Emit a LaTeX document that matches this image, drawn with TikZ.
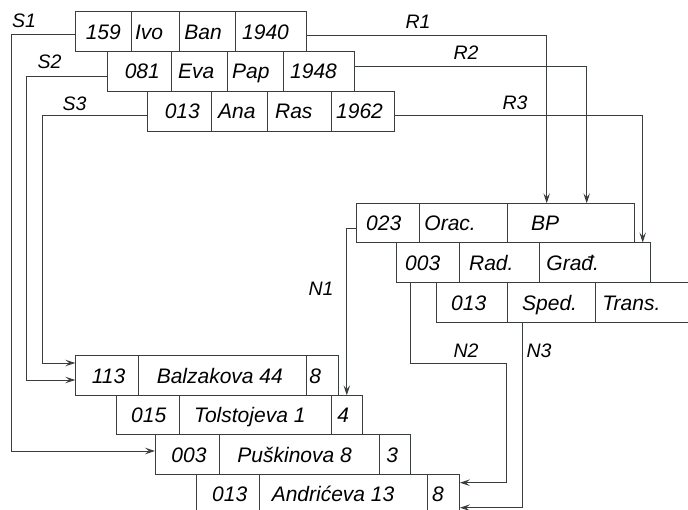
\documentclass[tikz,border=0pt]{standalone}
\usepackage{fontspec}
\setmainfont{Liberation Sans}
\usetikzlibrary{arrows.meta,calc}
\definecolor{ln}{HTML}{3A3D3E}
\tikzset{
  cellst/.style={draw=ln, line width=0.9pt, inner sep=0pt, text height=15pt, text depth=0pt,
    font=\fontsize{21}{25}\selectfont\itshape, anchor=north west},
  lab/.style={font=\fontsize{19.5}{23}\selectfont\itshape, inner sep=0pt},
  conn/.style={draw=ln, line width=0.9pt, -{Stealth[length=10pt,width=6.5pt,inset=4pt]}},
  plain/.style={draw=ln, line width=0.9pt}
}
\newcommand\cellbox[7]{\node[cellst, minimum width=#4pt, minimum height=#5pt] (#1) at (#2,#3) {\makebox[#4pt][l]{\hspace*{#6pt}#7}};}
\begin{document}
\begin{tikzpicture}[x=1pt,y=-1pt]
\useasboundingbox (0,0) rectangle (688,510);
\clip (0,0) rectangle (688,510);
% S tables
\cellbox{S1a}{75.3}{11.5}{55.4}{39.7}{10}{159}
\cellbox{S1b}{130.7}{11.5}{48.3}{39.7}{4}{Ivo}
\cellbox{S1c}{179}{11.5}{55.7}{39.7}{5}{Ban}
\cellbox{S1d}{234.7}{11.5}{71.3}{39.7}{7}{1940}
\cellbox{S2a}{107.3}{51.2}{63.4}{39.7}{17}{081}
\cellbox{S2b}{170.7}{51.2}{56}{39.7}{7}{Eva}
\cellbox{S2c}{226.7}{51.2}{56}{39.7}{5}{Pap}
\cellbox{S2d}{282.7}{51.2}{71.3}{39.7}{7}{1948}
\cellbox{S3a}{147.3}{90.9}{63.4}{39.7}{17}{013}
\cellbox{S3b}{210.7}{90.9}{56}{39.7}{7}{Ana}
\cellbox{S3c}{266.7}{90.9}{64}{39.7}{8}{Ras}
\cellbox{S3d}{330.7}{90.9}{63.3}{39.7}{5}{1962}
% middle tables
\cellbox{M1a}{355.7}{203.3}{63.3}{39.2}{10}{023}
\cellbox{M1b}{419}{203.3}{87.7}{39.2}{5}{Orac.}
\cellbox{M1c}{506.7}{203.3}{127.3}{39.2}{24}{BP}
\cellbox{M2a}{395.7}{242.5}{63}{39.8}{9}{003}
\cellbox{M2b}{458.7}{242.5}{80.3}{39.8}{10}{Rad.}
\cellbox{M2c}{539}{242.5}{111}{39.8}{7}{Građ.}
\cellbox{M3a}{435.7}{282.3}{71}{40}{15}{013}
\cellbox{M3b}{506.7}{282.3}{88.3}{40}{15}{Sped.}
\cellbox{M3c}{595}{282.3}{140}{40}{7}{Trans.}
% bottom tables
\cellbox{B1a}{75.3}{355}{63}{40.3}{16}{113}
\cellbox{B1b}{138.3}{355}{167.7}{40.3}{18}{Balzakova 44}
\cellbox{B1c}{306}{355}{32.3}{40.3}{3}{8}
\cellbox{B2a}{115.7}{395.3}{63}{39}{15}{015}
\cellbox{B2b}{178.7}{395.3}{152.3}{39}{15}{Tolstojeva 1}
\cellbox{B2c}{331}{395.3}{30.7}{39}{6}{4}
\cellbox{B3a}{155}{434.3}{64}{39.7}{16}{003}
\cellbox{B3b}{219}{434.3}{160}{39.7}{18}{Puškinova 8}
\cellbox{B3c}{379}{434.3}{31}{39.7}{7}{3}
\cellbox{B4a}{195.7}{474}{63.6}{40}{16}{013}
\cellbox{B4b}{259.3}{474}{167.4}{40}{12}{Andrićeva 13}
\cellbox{B4c}{426.7}{474}{32.3}{40}{5}{8}
% labels
\node[lab] (lS1) at (24,21) {S1};
\node[lab] (lS2) at (49.5,62) {S2};
\node[lab] (lS3) at (74.5,104) {S3};
\node[lab] (lR1) at (418,22) {R1};
\node[lab] (lR2) at (466,53) {R2};
\node[lab] (lR3) at (515,103) {R3};
\node[lab] (lN1) at (321,289) {N1};
\node[lab] (lN2) at (466,351) {N2};
\node[lab] (lN3) at (539,351) {N3};
% turning points
\coordinate (tS1) at (11,451);
\coordinate (tS2) at (26.7,380);
\coordinate (tS3) at (42.7,363);
\coordinate (tN2) at (506.7,363.3);
% S connectors
\draw[conn] (S1a.west |- 0,34) -| (tS1) -- (tS1 -| B3a.west);
\draw[conn] (S2a.west |- 0,76) -| (tS2) -- (tS2 -| B1a.west);
\draw[conn] (S3a.west |- 0,115) -| (tS3) -- (tS3 -| B1a.west);
% R connectors
\draw[conn] (S1d.east |- 0,35) -| (M1c.north -| 546.7,0);
\draw[conn] (S2d.east |- 0,66.7) -| (M1c.north -| 586.7,0);
\draw[conn] (S3d.east |- 0,115.7) -| (M2c.north -| 642.7,0);
% N connectors
\draw[conn] (M1a.west |- 0,228.3) -| (B2c.north);
\draw[conn] (M2a.south -| 410.7,0) |- (tN2) |- (B4c.east |- 0,482.7);
\draw[conn] (M3b.south -| 522.7,0) |- (B4c.east |- 0,507.7);
\end{tikzpicture}
\end{document}
